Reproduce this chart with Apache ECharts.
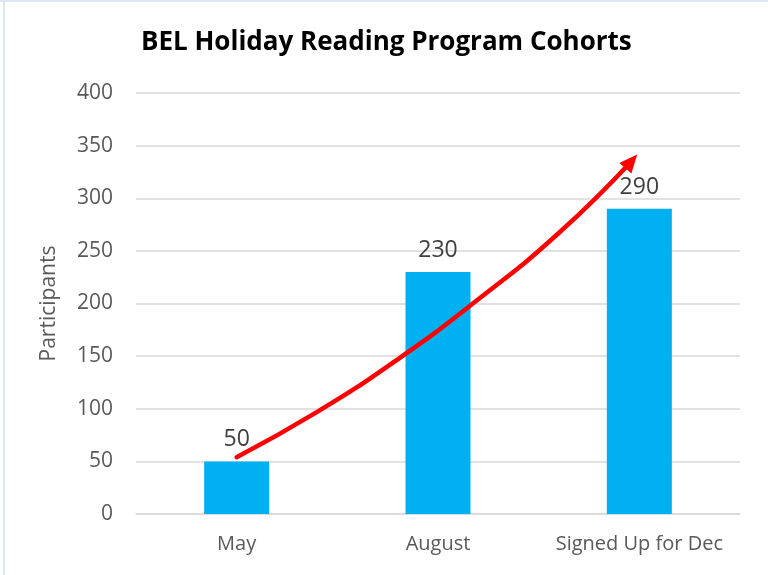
<!DOCTYPE html>
<html>
<head>
<meta charset="utf-8">
<script src="https://cdn.jsdelivr.net/npm/echarts@6/dist/echarts.min.js"></script>
<style>
html,body{margin:0;padding:0;background:#fff;}
#wrap{position:relative;width:768px;height:575px;overflow:hidden;}
#chart{position:absolute;left:0;top:0;width:768px;height:575px;}
#bt{position:absolute;left:0;top:0;width:768px;height:2px;background:#dde7f5;}
#bl{position:absolute;left:3px;top:0;width:2px;height:575px;background:#dde7f5;}
</style>
</head>
<body>
<div id="wrap"><div id="chart"></div><div id="bt"></div><div id="bl"></div></div>
<script>
// Data
const titleText = 'BEL Holiday Reading Program Cohorts';
const categories = ['May', 'August', 'Signed Up for Dec'];
const participants = [50, 230, 290];
const yAxisName = 'Participants';
const yMin = 0, yMax = 400, yInterval = 50;
// Hand-drawn trend arrow (x in category units, 0..3; y in participants)
const arrowX = [0.50, 0.90, 1.30, 1.70, 2.10, 2.46];
const arrowY = [54, 97, 147, 204, 267, 335];

const chart = echarts.init(document.getElementById('chart'), null, {renderer: 'canvas'});
const font = '"Open Sans", "Noto Sans", sans-serif';
const arrowData = arrowX.map((x, i) => {
  const p = [x, arrowY[i]];
  if (i === arrowX.length - 1) {
    return {value: p, symbol: 'triangle', symbolSize: [16, 18], symbolRotate: -41};
  }
  return {value: p, symbol: 'none'};
});

chart.setOption({
  animation: false,
  backgroundColor: '#ffffff',
  title: {
    text: titleText,
    left: 136, top: 25,
    textStyle: {fontFamily: font, fontWeight: 'bold', fontSize: 26, color: '#000000'}
  },
  grid: {left: 136, right: 28, top: 93, bottom: 61, containLabel: false},
  xAxis: [
    {
      type: 'category', data: categories,
      axisLine: {show: true, lineStyle: {color: '#d9d9d9', width: 1.5}},
      axisTick: {show: false},
      axisLabel: {interval: 0, color: '#595959', fontFamily: font, fontSize: 20, margin: 20}
    },
    {
      type: 'value', min: 0, max: 3, show: false
    }
  ],
  yAxis: {
    type: 'value', min: yMin, max: yMax, interval: yInterval,
    name: yAxisName, nameLocation: 'middle', nameGap: 76,
    nameTextStyle: {color: '#595959', fontFamily: font, fontSize: 21},
    axisLine: {show: false}, axisTick: {show: false},
    axisLabel: {color: '#595959', fontFamily: font, fontSize: 21, margin: 23},
    splitLine: {lineStyle: {color: '#d9d9d9', width: 1.5}}
  },
  series: [
    {
      type: 'bar', data: participants, barWidth: 65,
      itemStyle: {color: '#00b0f0'},
      label: {show: true, position: 'top', distance: 10, color: '#404040', fontFamily: font, fontSize: 23}
    },
    {
      type: 'line', xAxisIndex: 1, data: arrowData, smooth: 0.5,
      showSymbol: true,
      lineStyle: {color: '#ff0000', width: 4.5, cap: 'round', join: 'round'},
      itemStyle: {color: '#ff0000'},
      z: 5
    }
  ]
});
</script>
</body>
</html>
